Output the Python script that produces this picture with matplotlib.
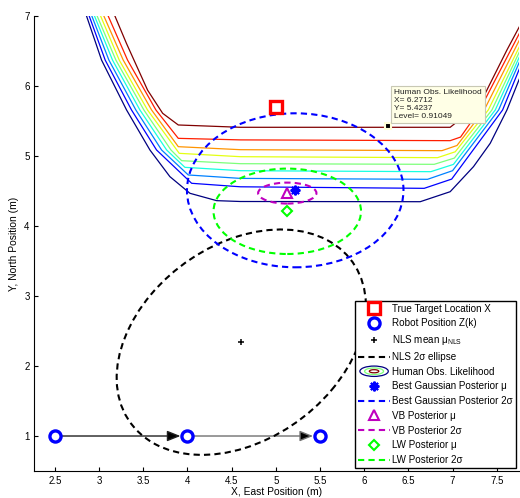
import numpy as np
import matplotlib
matplotlib.use("Agg")
import matplotlib.pyplot as plt
from matplotlib.patches import Ellipse
from matplotlib.lines import Line2D

plt.rcParams["font.family"] = ["Liberation Sans", "DejaVu Sans"]
plt.rcParams["mathtext.fontset"] = "custom"
plt.rcParams["mathtext.rm"] = "Liberation Sans"
plt.rcParams["mathtext.it"] = "Liberation Sans"
plt.rcParams["mathtext.bf"] = "Liberation Sans:bold"

# ---- data ----
target_x = [5.0]
target_y = [5.7]

robot_x = [2.5, 4.0, 5.5]
robot_y = [1.0, 1.0, 1.0]

nls_mean = [4.61, 2.34]
nls_cov = [[0.497, 0.18], [0.18, 0.648]]

gauss_mean = [5.22, 4.51]
gauss_cov = [[0.375, 0.0], [0.0, 0.3025]]

vb_mean = [5.13, 4.47]
vb_cov = [[0.0272, 0.0], [0.0, 0.0056]]

lw_mean = [5.13, 4.21]
lw_cov = [[0.174, 0.0], [0.0, 0.093]]

# human observation likelihood contour lines, lowest level first
likelihood_x = [
    [2.859, 3.029, 3.312, 3.576, 3.802, 4.029, 4.331, 4.6, 6.634, 6.973, 7.237, 7.426, 7.615, 7.766],
    [2.889, 3.070, 3.368, 3.651, 4.048, 4.6, 6.679, 6.99, 7.566, 7.766],
    [2.919, 3.112, 3.417, 3.708, 4.010, 4.6, 6.717, 7.00, 7.521, 7.766],
    [2.949, 3.153, 3.463, 3.765, 3.972, 4.6, 6.754, 7.01, 7.483, 7.766],
    [2.979, 3.191, 3.508, 3.814, 3.935, 4.6, 6.792, 7.02, 7.445, 7.766],
    [3.018, 3.229, 3.549, 3.908, 4.6, 6.830, 7.03, 7.404, 7.766],
    [3.055, 3.274, 3.595, 3.897, 4.6, 6.879, 7.05, 7.358, 7.766],
    [3.104, 3.323, 3.644, 3.897, 4.6, 6.973, 7.09, 7.306, 7.766],
    [3.18, 3.31, 3.41, 3.55, 3.72, 3.897, 4.6, 6.973, 7.124, 7.313, 7.464, 7.615, 7.766],
]
likelihood_y = [
    [7.0, 6.37, 5.657, 5.086, 4.705, 4.467, 4.362, 4.35, 4.347, 4.49, 4.848, 5.181, 5.657, 6.133],
    [7.0, 6.37, 5.657, 5.086, 4.61, 4.56, 4.538, 4.67, 5.657, 6.276],
    [7.0, 6.37, 5.657, 5.086, 4.729, 4.68, 4.667, 4.79, 5.657, 6.371],
    [7.0, 6.37, 5.657, 5.086, 4.838, 4.79, 4.776, 4.88, 5.657, 6.443],
    [7.0, 6.37, 5.657, 5.086, 4.933, 4.89, 4.881, 4.97, 5.657, 6.514],
    [7.0, 6.37, 5.657, 5.038, 4.99, 4.976, 5.06, 5.657, 6.586],
    [7.0, 6.37, 5.657, 5.133, 5.09, 5.076, 5.15, 5.657, 6.681],
    [7.0, 6.37, 5.657, 5.252, 5.23, 5.219, 5.27, 5.657, 6.776],
    [7.0, 6.61, 6.33, 5.94, 5.61, 5.443, 5.41, 5.41, 5.562, 5.752, 6.133, 6.514, 6.871],
]

tip_x = 6.2712
tip_y = 5.4237
tip_level = 0.91049

xticks = [2.5, 3, 3.5, 4, 4.5, 5, 5.5, 6, 6.5, 7, 7.5]
xtick_labels = ["2.5", "3", "3.5", "4", "4.5", "5", "5.5", "6", "6.5", "7", "7.5"]
yticks = [1, 2, 3, 4, 5, 6, 7]

DASH = (0, (3, 2))


def sigma_ellipse(ax, mean, cov, nsig, **kw):
    vals, vecs = np.linalg.eigh(np.array(cov))
    angle = np.degrees(np.arctan2(vecs[1, 1], vecs[0, 1]))
    width = 2 * nsig * np.sqrt(vals[1])
    height = 2 * nsig * np.sqrt(vals[0])
    e = Ellipse(mean, width, height, angle=angle, fill=False, **kw)
    ax.add_patch(e)
    return e


class LikelihoodKey:
    pass


class LikelihoodHandler:
    def legend_artist(self, legend, orig_handle, fontsize, handlebox):
        x0, y0 = handlebox.xdescent, handlebox.ydescent
        w, h = handlebox.width, handlebox.height
        cx, cy = x0 + w / 2, y0 + h / 2
        jet = plt.get_cmap("jet")
        rings = [(0.9, 1.5, jet(0.0)), (0.6, 0.95, jet(0.5)), (0.3, 0.45, jet(1.0))]
        first = None
        for fw, fh, c in rings:
            e = Ellipse((cx, cy), w * fw, h * fh, fill=False, edgecolor=c, lw=0.9,
                        transform=handlebox.get_transform())
            handlebox.add_artist(e)
            if first is None:
                first = e
        return first


fig = plt.figure(figsize=(5.2, 4.98), dpi=100)
ax = fig.add_axes([0.0663, 0.0542, 0.9315, 0.9137])

# likelihood contours
colors = plt.get_cmap("jet")(np.linspace(0, 1, len(likelihood_x)))
for xs, ys, c in zip(likelihood_x, likelihood_y, colors):
    ax.plot(xs, ys, color=c, lw=0.9, zorder=1)

# robot path
arrow_edge = ["#202020", "#707070"]
for i in range(len(robot_x) - 1):
    ax.annotate("", xy=(robot_x[i + 1], robot_y[i + 1]), xytext=(robot_x[i], robot_y[i]),
                arrowprops=dict(arrowstyle="-|>,head_length=0.8,head_width=0.32",
                                fc="k", ec=arrow_edge[i], lw=1.0, shrinkA=5, shrinkB=5),
                zorder=2)

# ellipses
sigma_ellipse(ax, nls_mean, nls_cov, 2, edgecolor="k", lw=1.5, ls=DASH, zorder=3)
sigma_ellipse(ax, gauss_mean, gauss_cov, 2, edgecolor="b", lw=1.5, ls=DASH, zorder=3)
sigma_ellipse(ax, vb_mean, vb_cov, 2, edgecolor="m", lw=1.5, ls=DASH, zorder=3)
sigma_ellipse(ax, lw_mean, lw_cov, 2, edgecolor="#00ff00", lw=1.5, ls=DASH, zorder=3)

# markers
h_target, = ax.plot(target_x, target_y, "s", ms=8, mfc="none", mec="r", mew=2.4, zorder=5)
h_robot, = ax.plot(robot_x, robot_y, "o", ms=8, mfc="none", mec="b", mew=2.4, zorder=5)
h_nls, = ax.plot([nls_mean[0]], [nls_mean[1]], "+", ms=5, color="k", mew=1.1, zorder=5)
h_gauss, = ax.plot([gauss_mean[0]], [gauss_mean[1]], marker=(8, 2, 0), ls="none",
                   ms=7, color="b", mew=1.5, zorder=6)
h_vb, = ax.plot([vb_mean[0]], [vb_mean[1]], "^", ms=7, mfc="none", mec="m", mew=1.5, zorder=5)
h_lw, = ax.plot([lw_mean[0]], [lw_mean[1]], "D", ms=5.5, mfc="none", mec="#00ff00", mew=1.5, zorder=5)

# data tip
ax.plot([tip_x], [tip_y], "s", ms=4, mfc="k", mec="#ffffd8", mew=1.5, zorder=10)
tip_text = "Human Obs. Likelihood\nX= %.4f\nY= %.4f\nLevel= %.5f" % (tip_x, tip_y, tip_level)
ax.annotate(tip_text, xy=(tip_x, tip_y), xytext=(4.5, 4.5), textcoords="offset points",
            ha="left", va="bottom", fontsize=6.0, linespacing=1.2, color="#222222",
            bbox=dict(boxstyle="square,pad=0.35", fc="#ffffe6", ec="#c8c8b4", lw=0.8),
            zorder=11)

ax.set_xlim(2.27, 7.75)
ax.set_ylim(0.5, 7)
ax.set_xticks(xticks)
ax.set_xticklabels(xtick_labels)
ax.set_yticks(yticks)
ax.tick_params(direction="in", length=3, width=0.8, labelsize=7, pad=3.5)
for s in ["top", "right"]:
    ax.spines[s].set_visible(False)
for s in ["left", "bottom"]:
    ax.spines[s].set_linewidth(0.8)
ax.set_xlabel("X, East Position (m)", fontsize=7.4, labelpad=1)
ax.set_ylabel("Y, North Position (m)", fontsize=7.4, labelpad=4)

handles = [
    h_target, h_robot, h_nls,
    Line2D([], [], color="k", lw=1.5, ls=DASH),
    LikelihoodKey(),
    h_gauss,
    Line2D([], [], color="b", lw=1.5, ls=DASH),
    h_vb,
    Line2D([], [], color="m", lw=1.5, ls=DASH),
    h_lw,
    Line2D([], [], color="#00ff00", lw=1.5, ls=DASH),
]
labels = [
    "True Target Location X",
    "Robot Position Z(k)",
    "NLS mean $\\mu_{\\rm NLS}$",
    "NLS 2σ ellipse",
    "Human Obs. Likelihood",
    "Best Gaussian Posterior μ",
    "Best Gaussian Posterior 2σ",
    "VB Posterior μ",
    "VB Posterior 2σ",
    "LW Posterior μ",
    "LW Posterior 2σ",
]
leg = ax.legend(handles, labels, loc="lower right", fontsize=7.1, handlelength=3.2,
                handletextpad=0.25, labelspacing=0.48, borderpad=0.3, borderaxespad=0.3,
                fancybox=False, framealpha=1, edgecolor="k",
                handler_map={LikelihoodKey: LikelihoodHandler()})
leg.get_frame().set_linewidth(1.0)
leg.set_zorder(20)

fig.savefig("out.png", dpi=100)
